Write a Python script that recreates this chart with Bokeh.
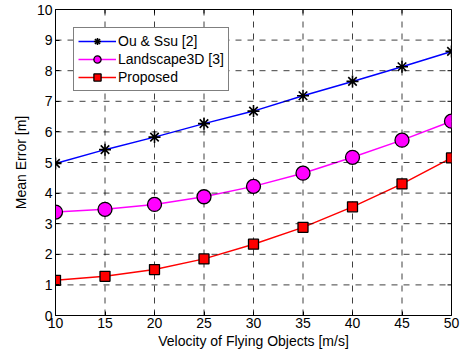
import math
from bokeh.plotting import figure
from bokeh.models import Legend, LegendItem, FixedTicker, Range1d
from bokeh.embed import file_html
from bokeh.resources import INLINE

velocity = [10, 15, 20, 25, 30, 35, 40, 45, 50]
ou_ssu = [4.97, 5.42, 5.83, 6.27, 6.68, 7.18, 7.65, 8.13, 8.63]
landscape3d = [3.38, 3.47, 3.63, 3.88, 4.22, 4.65, 5.17, 5.73, 6.35]
proposed = [1.15, 1.28, 1.50, 1.85, 2.33, 2.88, 3.55, 4.30, 5.15]
x_ticks = [10, 15, 20, 25, 30, 35, 40, 45, 50]
y_ticks = [0, 1, 2, 3, 4, 5, 6, 7, 8, 9, 10]

nx, ny = len(x_ticks), len(y_ticks)

p = figure(width=464, height=357, output_backend="svg", toolbar_location=None,
           x_range=Range1d(x_ticks[0], x_ticks[-1]), y_range=Range1d(y_ticks[0], y_ticks[-1]),
           min_border_left=55, min_border_right=13, min_border_top=9, min_border_bottom=42)
p.outline_line_color = "black"
p.outline_line_width = 1
p.xgrid.visible = False
p.ygrid.visible = False

for ax in (p.xaxis[0], p.yaxis[0]):
    ax.major_tick_in = 4
    ax.major_tick_out = 0
    ax.minor_tick_in = 0
    ax.minor_tick_out = 0
    ax.major_label_text_font_size = "14px"
    ax.major_label_text_color = "black"
    ax.axis_label_text_font_size = "14px"
    ax.axis_label_text_font_style = "normal"
    ax.axis_label_text_color = "black"
    ax.axis_line_color = "black"
p.xaxis.ticker = FixedTicker(ticks=x_ticks)
p.yaxis.ticker = FixedTicker(ticks=y_ticks)
p.xaxis.axis_label = "Velocity of Flying Objects [m/s]"
p.yaxis.axis_label = "Mean Error [m]"
p.xaxis.axis_label_standoff = 2
p.yaxis.axis_label_standoff = 5
p.xaxis.major_label_standoff = 2
p.yaxis.major_label_standoff = 3

# series lines
l1 = p.line(velocity, ou_ssu, line_color="blue", line_width=1.5)
l2 = p.line(velocity, landscape3d, line_color="magenta", line_width=1.5)
l3 = p.line(velocity, proposed, line_color="red", line_width=1.5)

# dashed grid at the tick positions
p.segment(x0=x_ticks, y0=[y_ticks[0]] * nx, x1=x_ticks, y1=[y_ticks[-1]] * nx,
          line_color="black", line_alpha=0.75, line_dash="dashed", line_width=1)
p.segment(x0=[x_ticks[0]] * ny, y0=y_ticks, x1=[x_ticks[-1]] * ny, y1=y_ticks,
          line_color="black", line_alpha=0.75, line_dash="dashed", line_width=1)

# inward ticks on top and right edges (half of each dash is clipped by the frame)
p.scatter(x=x_ticks, y=[y_ticks[-1]] * nx, marker="dash", size=8, angle=math.pi / 2,
          line_color="black", line_width=1)
p.scatter(x=[x_ticks[-1]] * ny, y=y_ticks, marker="dash", size=8,
          line_color="black", line_width=1)

# markers
m1 = p.scatter(velocity, ou_ssu, marker="asterisk", size=12, line_color="black", line_width=1.6)
m2 = p.scatter(velocity, landscape3d, marker="circle", size=14, fill_color="magenta", line_color="black", line_width=1.3)
m3 = p.scatter(velocity, proposed, marker="square", size=10, fill_color="red", line_color="black", line_width=1.3)

legend = Legend(items=[
    LegendItem(label="Ou & Ssu [2]", renderers=[l1, m1]),
    LegendItem(label="Landscape3D [3]", renderers=[l2, m2]),
    LegendItem(label="Proposed", renderers=[l3, m3]),
], location="top_left")
legend.label_text_font_size = "14px"
legend.label_text_color = "black"
legend.border_line_color = "black"
legend.border_line_width = 1
legend.glyph_width = 38
legend.glyph_height = 18
legend.label_height = 18
legend.spacing = 0
legend.padding = 4
legend.margin = 18
legend.label_standoff = 2
legend.background_fill_alpha = 1
p.add_layout(legend)

open("out.html", "w").write(file_html(p, INLINE))
